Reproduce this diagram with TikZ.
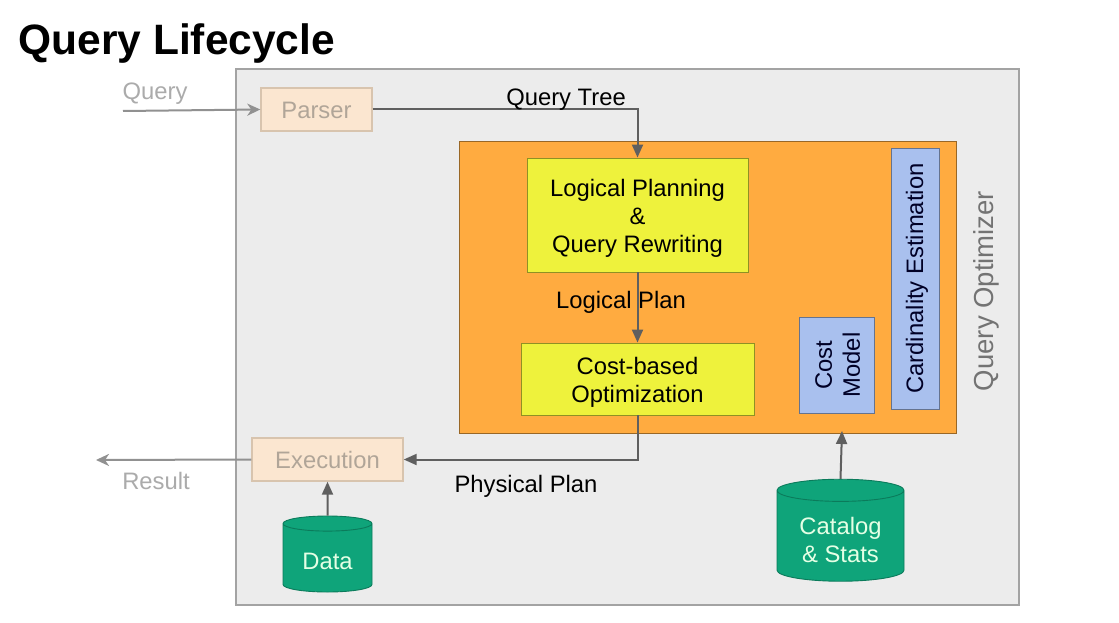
\documentclass[tikz,border=0pt]{standalone}
\usepackage{fontspec}
\setmainfont{Liberation Sans}
\usetikzlibrary{shapes.geometric,arrows.meta}

\definecolor{panelgray}{HTML}{ECECEC}
\definecolor{panelline}{HTML}{A3A3A3}
\definecolor{optorange}{HTML}{FFAB40}
\definecolor{planyellow}{HTML}{EEF23C}
\definecolor{costblue}{HTML}{A9C0EE}
\definecolor{storegreen}{HTML}{0FA47A}
\definecolor{fadebox}{HTML}{FBE6D0}
\definecolor{fadeline}{HTML}{D8C4AE}
\definecolor{fadetext}{HTML}{ABABAB}
\definecolor{fadestepText}{HTML}{B0A598}
\definecolor{edgedark}{HTML}{5F5F5F}

\tikzset{
  panel/.style={draw=panelline, fill=panelgray, line width=1.6pt, inner sep=0pt},
  optbox/.style={draw=#1!60!black, fill=#1, line width=0.9pt, inner sep=0pt, align=center, font=\fontsize{23.8}{28}\selectfont},
  textdrop/.style={execute at begin node=\rule{0pt}{#1}},
  fadestep/.style={draw=fadeline, fill=fadebox, line width=1.4pt, inner sep=0pt, text=fadestepText, font=\fontsize{23.8}{28}\selectfont},
  store/.style={cylinder, shape border rotate=90, draw=storegreen!75!black, fill=storegreen, line width=0.9pt, inner sep=0pt,
    text=white!90!green, align=center, font=\fontsize{23.8}{28}\selectfont},
  flow/.style={draw=edgedark, line width=2pt, -{Triangle[length=13pt,width=11pt]}},
  fadeflow/.style={draw=fadetext!85!black, line width=2pt, -{Stealth[length=13pt,width=12pt,inset=4pt]}},
  textlabel/.style={font=\fontsize{23.8}{28}\selectfont},
  fadelabel/.style={text=fadetext, font=\fontsize{23.8}{28}\selectfont}
}

\begin{document}
\begin{tikzpicture}[x=1pt, y=-1pt]

  % page size of the reference
  \path[use as bounding box, fill=white] (0,0) rectangle (1119,623);

  \node[font=\fontsize{42.5}{48}\selectfont\bfseries, anchor=west] (title) at (15,44) {Query Lifecycle};

  % Outer panel and optimizer box
  \node[panel, minimum width=783pt, minimum height=536pt] (engine) at (627.5,337) {};
  \node[draw=optorange!60!black, fill=optorange, line width=0.9pt, inner sep=0pt,
    minimum width=497pt, minimum height=292pt] (optimizer) at (707.5,287) {};
  \node[rotate=90, text=black!55, font=\fontsize{27.5}{32}\selectfont] (optlabel) at (986,291) {Query Optimizer};

  % Planning steps
  \node[optbox=planyellow, minimum width=221pt, minimum height=114pt] (logical) at (637.5,215)
    {\\[-5pt]Logical Planning\\\&\\Query Rewriting};
  \node[optbox=planyellow, minimum width=233pt, minimum height=72pt] (costopt) at (637.5,379)
    {\\[-5pt]Cost-based\\Optimization};

  % Estimators
  \node[optbox=costblue, rotate=90, minimum width=96pt, minimum height=75pt, text=black!85!blue] (costmodel) at (836.5,365)
    {\\[-9pt]Cost\\Model};
  \node[optbox=costblue, textdrop=21pt, rotate=90, minimum width=261pt, minimum height=48pt, text=black!85!blue] (cardinality) at (915,278.5)
    {Cardinality Estimation};

  % Faded steps
  \node[fadestep, textdrop=19pt, minimum width=111pt, minimum height=43pt] (parser) at (316.5,109.5) {Parser};
  \node[fadestep, minimum width=151pt, minimum height=43pt] (execution) at (327.5,459.5) {Execution};

  % Stores
  \node[store, minimum width=89pt, minimum height=76pt, aspect=0.3] (data) at (327.5,558) {\\[-4pt]Data};
  \node[store, minimum width=127pt, minimum height=102pt, aspect=0.27] (catalog) at (840.5,536)
    {\\[-2pt]Catalog\\\& Stats};

  % Free ends
  \coordinate (queryin) at (123,111);
  \coordinate (resultout) at (96,460);
  \coordinate (catalogin) at (842,431);

  % Connectors
  \draw[fadeflow] (queryin) -- (parser.west);
  \draw[fadeflow] (execution.west) -- (resultout);
  \draw[flow] (parser.east) -| (logical.north);
  \draw[flow] (logical.south) -- (costopt.north);
  \draw[flow] (costopt.south) |- (execution.east);
  \draw[flow] (data.north) -- (execution.south);
  \draw[flow] (catalog.north) -- (catalogin);

  % Labels
  \node[fadelabel] (querylabel) at (155,94) {Query};
  \node[fadelabel] (resultlabel) at (156,481) {Result};
  \node[textlabel] (treelabel) at (566,100) {Query Tree};
  \node[textlabel] (logicallabel) at (621,302) {Logical Plan};
  \node[textlabel] (physicallabel) at (526,486) {Physical Plan};

\end{tikzpicture}
\end{document}
